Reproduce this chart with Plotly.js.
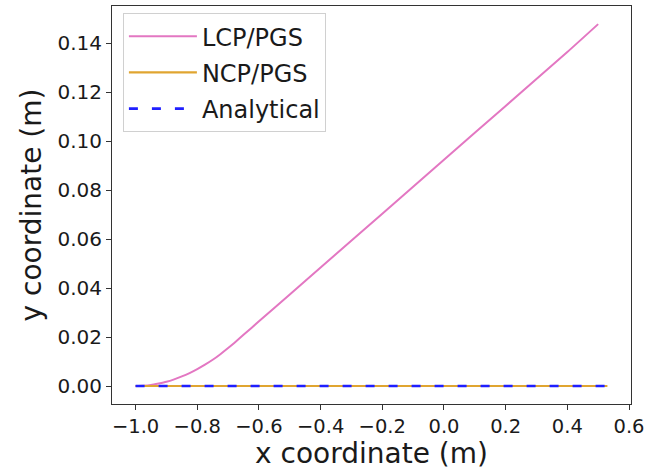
<!DOCTYPE html>
<html>
<head>
<meta charset="utf-8">
<script src="https://cdn.plot.ly/plotly-3.0.1.min.js"></script>
<style>html,body{margin:0;padding:0;background:#fff;}#chart{width:658px;height:470px;}</style>
</head>
<body>
<div id="chart"></div>
<script>
// LCP/PGS trajectory
const lcpX = [-1.0, -0.975, -0.95, -0.925, -0.9, -0.875, -0.85, -0.825, -0.8, -0.775, -0.75, -0.725, -0.7, -0.68, -0.65, -0.6, -0.5, -0.4, -0.2, 0.0, 0.2, 0.4, 0.5];
const lcpY = [0.0, 0.0001, 0.0004, 0.0010, 0.0017, 0.0027, 0.0039, 0.0053, 0.0069, 0.0087, 0.0107, 0.0130, 0.0155, 0.0176, 0.0209, 0.0264, 0.0374, 0.0484, 0.0704, 0.0924, 0.1144, 0.1364, 0.1478];
// NCP/PGS trajectory
const ncpX = [-1.0, 0.53];
const ncpY = [0.0, 0.0];
// Analytical solution
const anaX = [-1.0, 0.53];
const anaY = [0.0, 0.0];

const xTicks = [-1.0, -0.8, -0.6, -0.4, -0.2, 0.0, 0.2, 0.4, 0.6];
const xTickText = ['\u22121.0', '\u22120.8', '\u22120.6', '\u22120.4', '\u22120.2', '0.0', '0.2', '0.4', '0.6'];
const yTicks = [0.00, 0.02, 0.04, 0.06, 0.08, 0.10, 0.12, 0.14];
const yTickText = ['0.00', '0.02', '0.04', '0.06', '0.08', '0.10', '0.12', '0.14'];

const traces = [
  {x: lcpX, y: lcpY, name: 'LCP/PGS', mode: 'lines', legendgroup: 'a',
   line: {color: '#e377c2', width: 2, shape: 'spline', smoothing: 0.5}},
  {x: ncpX, y: ncpY, name: 'NCP/PGS', mode: 'lines', legendgroup: 'b',
   line: {color: '#e0a530', width: 2.2}},
  {x: anaX, y: anaY, name: 'Analytical', mode: 'lines', legendgroup: 'c',
   line: {color: '#1f1fff', width: 2.6, dash: '9px,14px'}}
];

const fam = 'DejaVu Sans, sans-serif';
const col = '#1a1a1a';
const layout = {
  width: 658, height: 470,
  margin: {l: 112, r: 27, t: 6, b: 66},
  paper_bgcolor: '#ffffff', plot_bgcolor: '#ffffff',
  font: {family: fam, color: col, size: 19.5},
  showlegend: true,
  legend: {
    x: 0.021, y: 0.982, xanchor: 'left', yanchor: 'top',
    bgcolor: 'rgba(255,255,255,0.9)', bordercolor: '#d0d0d0', borderwidth: 1,
    font: {family: fam, size: 24, color: col},
    tracegroupgap: 2, itemwidth: 68
  },
  xaxis: {
    range: [-1.0765, 0.6065], tickvals: xTicks, ticktext: xTickText,
    ticks: 'outside', ticklen: 5, tickcolor: '#333', tickwidth: 1,
    showgrid: false, zeroline: false, showline: true, mirror: true,
    linecolor: '#333', linewidth: 1,
    tickfont: {size: 19.5},
    title: {text: 'x coordinate (m)', font: {size: 28}, standoff: 5}
  },
  yaxis: {
    range: [-0.00735, 0.1552], tickvals: yTicks, ticktext: yTickText,
    ticks: 'outside', ticklen: 5, tickcolor: '#333', tickwidth: 1,
    showgrid: false, zeroline: false, showline: true, mirror: true,
    linecolor: '#333', linewidth: 1,
    tickfont: {size: 20},
    title: {text: 'y coordinate (m)', font: {size: 28}, standoff: 7}
  }
};

Plotly.newPlot('chart', traces, layout, {displayModeBar: false, staticPlot: true});
</script>
</body>
</html>
